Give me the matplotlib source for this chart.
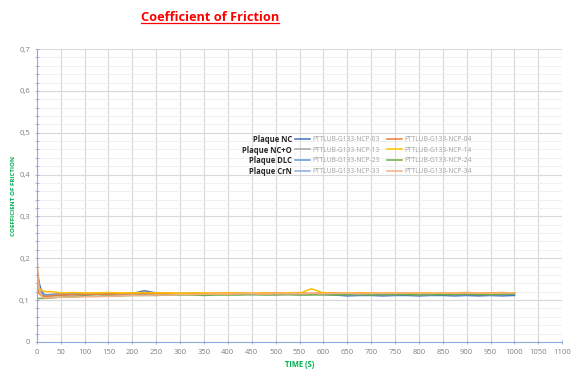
import matplotlib.pyplot as plt
from matplotlib.ticker import MultipleLocator, FuncFormatter

# time samples (s)
t = [0, 1, 2, 3, 5, 8, 12, 16, 20, 30, 40,
     50, 75, 100, 125, 150, 175, 200, 225, 250, 275, 300, 325, 350, 375,
     400, 425, 450, 475, 500, 525, 550, 575, 600, 625, 650, 675, 700, 725,
     750, 775, 800, 825, 850, 875, 900, 925, 950, 975, 1000]

ncp03 = [0.100, 0.150, 0.165, 0.155, 0.140, 0.128, 0.118, 0.113, 0.111, 0.110, 0.111,
         0.112, 0.113, 0.112, 0.114, 0.113, 0.115, 0.116, 0.122, 0.117, 0.115, 0.114, 0.115, 0.114, 0.114,
         0.115, 0.114, 0.114, 0.115, 0.114, 0.114, 0.113, 0.114, 0.113, 0.112, 0.110, 0.111, 0.111, 0.110,
         0.111, 0.111, 0.110, 0.111, 0.111, 0.110, 0.111, 0.110, 0.111, 0.110, 0.111]
ncp04 = [0.100, 0.120, 0.125, 0.120, 0.115, 0.112, 0.110, 0.109, 0.109, 0.110, 0.111,
         0.112, 0.113, 0.113, 0.114, 0.114, 0.115, 0.115, 0.116, 0.115, 0.116, 0.116, 0.115, 0.116, 0.116,
         0.116, 0.117, 0.116, 0.116, 0.117, 0.116, 0.117, 0.116, 0.117, 0.117, 0.116, 0.117, 0.117, 0.116,
         0.117, 0.117, 0.117, 0.116, 0.117, 0.117, 0.118, 0.117, 0.117, 0.118, 0.117]
ncp13 = [0.100, 0.130, 0.140, 0.135, 0.125, 0.118, 0.114, 0.113, 0.113, 0.114, 0.115,
         0.115, 0.116, 0.115, 0.116, 0.116, 0.115, 0.116, 0.116, 0.115, 0.116, 0.115, 0.116, 0.115, 0.115,
         0.116, 0.115, 0.115, 0.116, 0.115, 0.115, 0.116, 0.115, 0.115, 0.115, 0.114, 0.115, 0.115, 0.114,
         0.115, 0.115, 0.114, 0.115, 0.115, 0.114, 0.115, 0.115, 0.114, 0.115, 0.115]
ncp14 = [0.100, 0.130, 0.135, 0.132, 0.128, 0.125, 0.122, 0.121, 0.120, 0.120, 0.119,
         0.117, 0.118, 0.117, 0.117, 0.118, 0.117, 0.117, 0.118, 0.117, 0.117, 0.116, 0.117, 0.117, 0.116,
         0.117, 0.117, 0.116, 0.117, 0.116, 0.117, 0.116, 0.127, 0.117, 0.116, 0.117, 0.116, 0.117, 0.116,
         0.117, 0.116, 0.117, 0.117, 0.116, 0.117, 0.116, 0.117, 0.116, 0.117, 0.117]
ncp23 = [0.100, 0.140, 0.150, 0.145, 0.130, 0.120, 0.115, 0.113, 0.112, 0.112, 0.113,
         0.114, 0.114, 0.115, 0.114, 0.115, 0.115, 0.116, 0.115, 0.116, 0.115, 0.115, 0.116, 0.115, 0.115,
         0.115, 0.114, 0.115, 0.115, 0.114, 0.115, 0.115, 0.114, 0.115, 0.114, 0.114, 0.115, 0.114, 0.114,
         0.115, 0.114, 0.114, 0.115, 0.114, 0.115, 0.114, 0.114, 0.115, 0.114, 0.115]
ncp24 = [0.090, 0.102, 0.104, 0.104, 0.104, 0.104, 0.104, 0.104, 0.104, 0.105, 0.106,
         0.107, 0.108, 0.109, 0.109, 0.110, 0.110, 0.111, 0.111, 0.111, 0.112, 0.112, 0.112, 0.111, 0.112,
         0.112, 0.112, 0.113, 0.112, 0.112, 0.113, 0.112, 0.112, 0.113, 0.112, 0.113, 0.113, 0.112, 0.113,
         0.113, 0.113, 0.112, 0.113, 0.113, 0.113, 0.114, 0.113, 0.113, 0.114, 0.114]
ncp33 = [0.100, 0.135, 0.145, 0.140, 0.128, 0.118, 0.112, 0.110, 0.110, 0.111, 0.112,
         0.113, 0.113, 0.114, 0.114, 0.113, 0.114, 0.115, 0.114, 0.115, 0.114, 0.114, 0.115, 0.114, 0.114,
         0.114, 0.114, 0.113, 0.114, 0.114, 0.113, 0.114, 0.114, 0.113, 0.114, 0.113, 0.113, 0.114, 0.113,
         0.113, 0.114, 0.113, 0.113, 0.114, 0.113, 0.113, 0.114, 0.113, 0.113, 0.114]
ncp34 = [0.000, 0.185, 0.170, 0.150, 0.125, 0.112, 0.106, 0.105, 0.105, 0.106, 0.106,
         0.107, 0.107, 0.108, 0.108, 0.109, 0.110, 0.111, 0.111, 0.112, 0.112, 0.113, 0.113, 0.114, 0.114,
         0.114, 0.115, 0.115, 0.114, 0.115, 0.115, 0.115, 0.116, 0.115, 0.116, 0.116, 0.115, 0.116, 0.116,
         0.116, 0.117, 0.116, 0.116, 0.117, 0.116, 0.117, 0.117, 0.116, 0.117, 0.117]

names = ["PTTLUB-G133-NCP-03", "PTTLUB-G133-NCP-13", "PTTLUB-G133-NCP-23", "PTTLUB-G133-NCP-33",
         "PTTLUB-G133-NCP-04", "PTTLUB-G133-NCP-14", "PTTLUB-G133-NCP-24", "PTTLUB-G133-NCP-34"]
series = [ncp03, ncp13, ncp23, ncp33, ncp04, ncp14, ncp24, ncp34]
colors = ["#4472C4", "#A5A5A5", "#5B9BD5", "#8FAADC", "#ED7D31", "#FFC000", "#70AD47", "#F4B183"]
groups = ["Plaque NC", "Plaque NC+O", "Plaque DLC", "Plaque CrN"]

plt.rcParams['font.family'] = ['Open Sans', 'DejaVu Sans']

fig = plt.figure(figsize=(5.76, 3.72), dpi=100)
ax = fig.add_axes([0.064, 0.081, 0.912, 0.787])

for y, c, n in zip(series, colors, names):
    ax.plot(t, y, color=c, lw=1.1, label=n)

ax.set_xlim(0, 1100)
ax.set_ylim(0, 0.7)
ax.xaxis.set_major_locator(MultipleLocator(50))
ax.yaxis.set_major_locator(MultipleLocator(0.1))
ax.yaxis.set_minor_locator(MultipleLocator(0.02))
ax.yaxis.set_major_formatter(FuncFormatter(lambda v, p: ("%g" % round(v, 1)).replace(".", ",")))
ax.grid(True, which='major', color='#D9D9D9', lw=0.8)
ax.grid(True, which='minor', axis='y', color='#EEEEEE', lw=0.6)
ax.set_axisbelow(True)
for s in ['top', 'right']:
    ax.spines[s].set_visible(False)
for s in ['left', 'bottom']:
    ax.spines[s].set_color('#8FAADC')
ax.tick_params(which='both', colors='#8FAADC', labelcolor='#808080', labelsize=5.5,
               direction='inout', length=3, width=0.6)

ax.set_xlabel("TIME (S)", color='#00B050', fontsize=5.5, fontweight='bold', labelpad=3)
ax.set_ylabel("COEFFICIENT OF FRICTION", color='#00B050', fontsize=4.5, fontweight='bold')
ax.yaxis.set_label_coords(-0.04, 0.5)

title = fig.text(0.365, 0.953, "Coefficient of Friction", color='#FF0000', fontsize=9.2,
                 fontweight='bold', ha='center', va='center')

leg = ax.legend(ncol=2, loc='upper left', bbox_to_anchor=(0.48, 0.7235), frameon=False,
                fontsize=4.8, handlelength=2.3, handletextpad=0.35, columnspacing=1.0,
                labelspacing=0.55)
for txt in leg.get_texts():
    txt.set_color('#A0A0A0')

fig.canvas.draw()
bb = title.get_window_extent().transformed(fig.transFigure.inverted())
fig.add_artist(plt.Line2D([bb.x0, bb.x1], [bb.y0 + 0.002, bb.y0 + 0.002], color='#FF0000', lw=0.9))

inv = fig.transFigure.inverted()
for g, txt in zip(groups, leg.get_texts()[:4]):
    e = txt.get_window_extent().transformed(inv)
    fig.text(0.507, (e.y0 + e.y1) / 2, g, ha='right', va='center', fontsize=5.5,
             fontweight='bold', color='#262626')

fig.savefig("out.png", dpi=100)
